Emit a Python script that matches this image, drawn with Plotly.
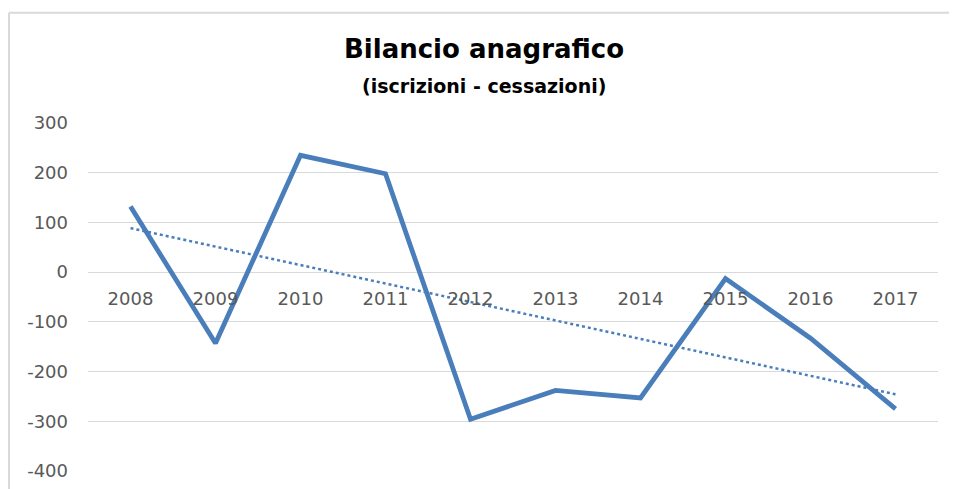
import numpy as np
import plotly.graph_objects as go

# dati
anni = ["2008", "2009", "2010", "2011", "2012", "2013", "2014", "2015", "2016", "2017"]
saldo = [132, -143, 235, 198, -296, -238, -253, -13, -133, -275]

y_ticks = [-400, -300, -200, -100, 0, 100, 200, 300]
y_etichette = ["-400", "-300", "-200", "-100", "0", "100", "200", "300"]

# tendenza lineare (come in Excel)
idx = np.arange(len(anni))
coef = np.polyfit(idx, saldo, 1)
tendenza = np.polyval(coef, idx)

BLU = "#4A7EBB"
GRIGIO = "#D9D9D9"
FONT = "DejaVu Sans"

Y_MIN, Y_MAX = -402, 300

fig = go.Figure()

fig.add_trace(go.Scatter(
    x=anni, y=tendenza, mode="lines",
    line=dict(color=BLU, width=2.5, dash="dot"),
    hoverinfo="skip", showlegend=False
))

fig.add_trace(go.Scatter(
    x=anni, y=saldo, mode="lines",
    line=dict(color=BLU, width=4.8),
    showlegend=False
))

# titolo e sottotitolo
fig.add_annotation(
    text="<b>Bilancio anagrafico</b>", xref="paper", yref="paper",
    x=0.466, y=1.2116, xanchor="center", yanchor="middle", showarrow=False,
    font=dict(family=FONT, size=26, color="black")
)
fig.add_annotation(
    text="<b>(iscrizioni - cessazioni)</b>", xref="paper", yref="paper",
    x=0.466, y=1.105, xanchor="center", yanchor="middle", showarrow=False,
    font=dict(family=FONT, size=19, color="black")
)

# bordo dell'area grafico: solo lato superiore e sinistro visibili
fig.add_shape(
    type="line", xref="paper", yref="paper",
    x0=-0.093, x1=1.1, y0=1.316, y1=1.316,
    line=dict(color=GRIGIO, width=2), layer="below"
)
fig.add_shape(
    type="line", xref="paper", yref="paper",
    x0=-0.093, x1=-0.093, y0=-0.3, y1=1.316,
    line=dict(color=GRIGIO, width=2), layer="below"
)

fig.update_xaxes(
    type="category", range=[-0.5, len(anni) - 0.5],
    anchor="free", position=-Y_MIN / (Y_MAX - Y_MIN),
    showgrid=False, showline=False, zeroline=False, ticks="",
    ticklabelstandoff=14,
    tickfont=dict(family=FONT, size=18, color="#595959")
)
fig.update_yaxes(
    range=[Y_MIN, Y_MAX], tickvals=y_ticks, ticktext=y_etichette,
    showgrid=True, gridcolor=GRIGIO, gridwidth=1,
    zeroline=True, zerolinecolor=GRIGIO, zerolinewidth=1,
    ticks="", ticklabelstandoff=19,
    tickfont=dict(family=FONT, size=18, color="#595959")
)

fig.update_layout(
    width=949, height=481,
    margin=dict(l=80, r=19, t=115, b=17, autoexpand=False),
    paper_bgcolor="white", plot_bgcolor="white",
)

fig.write_html("out.html")
